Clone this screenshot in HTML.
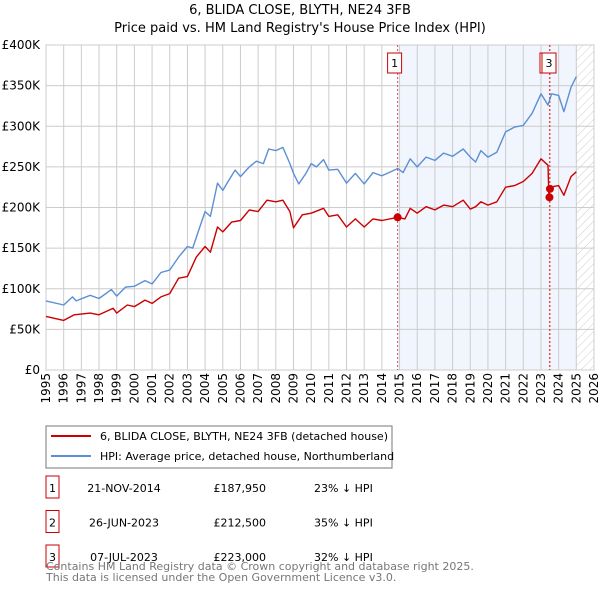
<!DOCTYPE html>
<html><head><meta charset="utf-8"><style>
body{margin:0;background:#fff;font-family:"Liberation Sans","DejaVu Sans",sans-serif;}
svg text{font-family:"DejaVu Sans","Liberation Sans",sans-serif;}
</style></head><body>
<svg id="c" width="600" height="590" xmlns="http://www.w3.org/2000/svg">
<defs><pattern id="hatch" width="6" height="6" patternUnits="userSpaceOnUse" patternTransform="rotate(45)"><line x1="0" y1="0" x2="0" y2="6" stroke="#ccc" stroke-width="1"/></pattern></defs>
<text x="300" y="14" text-anchor="middle" font-size="13" fill="#000">6, BLIDA CLOSE, BLYTH, NE24 3FB</text>
<text x="300" y="32" text-anchor="middle" font-size="13" fill="#000">Price paid vs. HM Land Registry's House Price Index (HPI)</text>
<g id="plot"></g>
<rect x="46" y="426" width="346" height="42" fill="#fff" stroke="#777"/>
<line x1="51" y1="436" x2="91" y2="436" stroke="#cc0000" stroke-width="2"/>
<text x="100" y="440" font-size="11">6, BLIDA CLOSE, BLYTH, NE24 3FB (detached house)</text>
<line x1="51" y1="456" x2="91" y2="456" stroke="#5b8fd4" stroke-width="2"/>
<text x="100" y="460" font-size="11">HPI: Average price, detached house, Northumberland</text>
<g id="tbl" font-size="11"></g>
<text x="46" y="570" font-size="11" fill="#777">Contains HM Land Registry data © Crown copyright and database right 2025.</text>
<text x="46" y="581" font-size="11" fill="#777">This data is licensed under the Open Government Licence v3.0.</text>
</svg>
<script>
const hpiYears=[1995,1996,1996.5,1996.7,1997.5,1998,1998.7,1999,1999.5,2000,2000.6,2001,2001.5,2002,2002.5,2003,2003.3,2003.7,2004,2004.3,2004.7,2005,2005.3,2005.7,2006,2006.5,2006.9,2007.3,2007.6,2008,2008.4,2008.8,2009,2009.3,2009.7,2010,2010.3,2010.7,2011,2011.5,2012,2012.5,2013,2013.5,2014,2014.5,2014.9,2015.2,2015.6,2016,2016.5,2017,2017.5,2018,2018.6,2019,2019.3,2019.6,2020,2020.5,2021,2021.5,2022,2022.5,2023,2023.4,2023.6,2024,2024.3,2024.7,2025];
const hpiValues=[85,80,90,85,92,88,99,91,102,103,110,106,120,123,139,152,150,176,195,189,230,221,232,246,238,250,257,254,272,270,274,254,242,229,242,254,250,259,246,247,230,242,229,243,239,244,248,243,260,250,262,258,267,263,272,262,256,270,262,268,293,299,301,316,340,326,340,338,318,348,361];
const priceYears=[1995,1996,1996.6,1997.5,1998,1998.8,1999,1999.6,2000,2000.6,2001,2001.5,2002,2002.5,2003,2003.5,2004,2004.3,2004.7,2005,2005.5,2006,2006.5,2007,2007.5,2008,2008.4,2008.8,2009,2009.5,2010,2010.7,2011,2011.5,2012,2012.5,2013,2013.5,2014,2014.9,2015.3,2015.6,2016,2016.5,2017,2017.5,2018,2018.6,2019,2019.3,2019.6,2020,2020.5,2021,2021.5,2022,2022.5,2023,2023.4,2023.45,2023.5,2024,2024.3,2024.7,2025];
const priceValues=[66,61,68,70,68,76,70,80,78,86,82,90,94,113,115,139,152,145,176,170,182,184,197,195,209,207,209,195,175,191,193,199,189,191,176,186,176,186,184,188,186,199,193,201,197,203,201,209,198,201,207,203,207,225,227,232,242,260,252,213,225,227,215,238,244];
const saleLabels=["1","2","3"];
const saleYears=[2014.89,2023.48,2023.51];
const saleValues=[187.95,212.5,223];
const saleDates=["21-NOV-2014","26-JUN-2023","07-JUL-2023"];
const salePrices=["£187,950","£212,500","£223,000"];
const saleDiffs=["23% ↓ HPI","35% ↓ HPI","32% ↓ HPI"];
const yTicks=[0,50,100,150,200,250,300,350,400];
const yTickLabels=["£0","£50K","£100K","£150K","£200K","£250K","£300K","£350K","£400K"];
const xTicks=[1995,1996,1997,1998,1999,2000,2001,2002,2003,2004,2005,2006,2007,2008,2009,2010,2011,2012,2013,2014,2015,2016,2017,2018,2019,2020,2021,2022,2023,2024,2025,2026];

const NS="http://www.w3.org/2000/svg";
const X0=46,X1=594,Y0=370,Y1=45;
const xs=y=>X0+(y-1995)/(2026-1995)*(X1-X0);
const ys=v=>Y0-(v/400)*(Y0-Y1);
const g=document.getElementById('plot');
function mk(tag,attrs,parent){const e=document.createElementNS(NS,tag);for(const k in attrs)e.setAttribute(k,attrs[k]);(parent||g).appendChild(e);return e;}
let e;
e=mk('rect',{x:X0,y:Y1,width:X1-X0,height:Y0-Y1,fill:'#fff'});


e=mk('rect',{x:xs(2014.89),y:Y1,width:xs(2025)-xs(2014.89),height:Y0-Y1,fill:'#eef3fc',opacity:0.8});


e=mk('rect',{x:xs(2025),y:Y1,width:X1-xs(2025),height:Y0-Y1,fill:'url(#hatch)'});


xTicks.forEach(t=>{
 e=mk('line',{x1:xs(t),x2:xs(t),y1:Y1,y2:Y0,stroke:'#ccc','stroke-width':1});
 
 
 e=mk('text',{x:0,y:0,'font-size':12,'text-anchor':'end',transform:`translate(${xs(t)+4},${Y0+3}) rotate(-90)`});
 e.textContent=t;
 
 
});
yTicks.forEach((t,i)=>{
 e=mk('line',{x1:X0,x2:X1,y1:ys(t),y2:ys(t),stroke:'#ccc','stroke-width':1});
 
 
 e=mk('text',{x:40,y:ys(t)+4,'font-size':12,'text-anchor':'end'});
 e.textContent=yTickLabels[i];
 
 
});
e=mk('rect',{x:X0,y:Y1,width:X1-X0,height:Y0-Y1,fill:'none',stroke:'#ccc'});


saleYears.forEach((y,i)=>{
 e=mk('line',{x1:xs(y),x2:xs(y),y1:Y1,y2:Y0,stroke:'#e05050','stroke-width':1,'stroke-dasharray':'2,2'});
 
 
});
function path(xsArr,vs,color,name){
 const d=xsArr.map((y,i)=>(i?'L':'M')+xs(y).toFixed(1)+','+ys(vs[i]).toFixed(1)).join('');
 e=mk('path',{d:d,fill:'none',stroke:color,'stroke-width':1.4,'stroke-linejoin':'round'});
 
 
}
path(hpiYears,hpiValues,'#5b8fd4','hpi-line');
path(priceYears,priceValues,'#cc0000','price-line');
saleYears.forEach((y,i)=>{
 e=mk('circle',{cx:xs(y),cy:ys(saleValues[i]),r:4,fill:'#cc0000'});
 
 
});
[0,1,2].forEach(i=>{
 if(i===1)return;
 const bx=xs(saleYears[i])-(i===0?10:8);
 if(i===2){e=mk('rect',{x:bx-2,y:53,width:14,height:20,fill:'#fff',stroke:'#cc0000'});
 
 }
 e=mk('rect',{x:bx,y:53,width:14,height:20,fill:'#fff',stroke:'#cc0000'});
 
 
 e=mk('text',{x:bx+7,y:67,'font-size':11,'text-anchor':'middle'});
 e.textContent=saleLabels[i];
 
 
});
const tb=document.getElementById('tbl');
saleLabels.forEach((l,i)=>{
 const cy=488+i*34.5;
 e=mk('rect',{x:46,y:cy-12,width:13,height:22,fill:'#fff',stroke:'#cc0000'},tb);
 
 
 e=mk('text',{x:52.5,y:cy+4,'text-anchor':'middle'},tb);e.textContent=l;
 
 
 e=mk('text',{x:124,y:cy+4,'text-anchor':'middle'},tb);e.textContent=saleDates[i];
 
 
 e=mk('text',{x:266,y:cy+4,'text-anchor':'end'},tb);e.textContent=salePrices[i];
 
 
 e=mk('text',{x:314,y:cy+4},tb);e.textContent=saleDiffs[i];
 
 
});
</script>
</body></html>
